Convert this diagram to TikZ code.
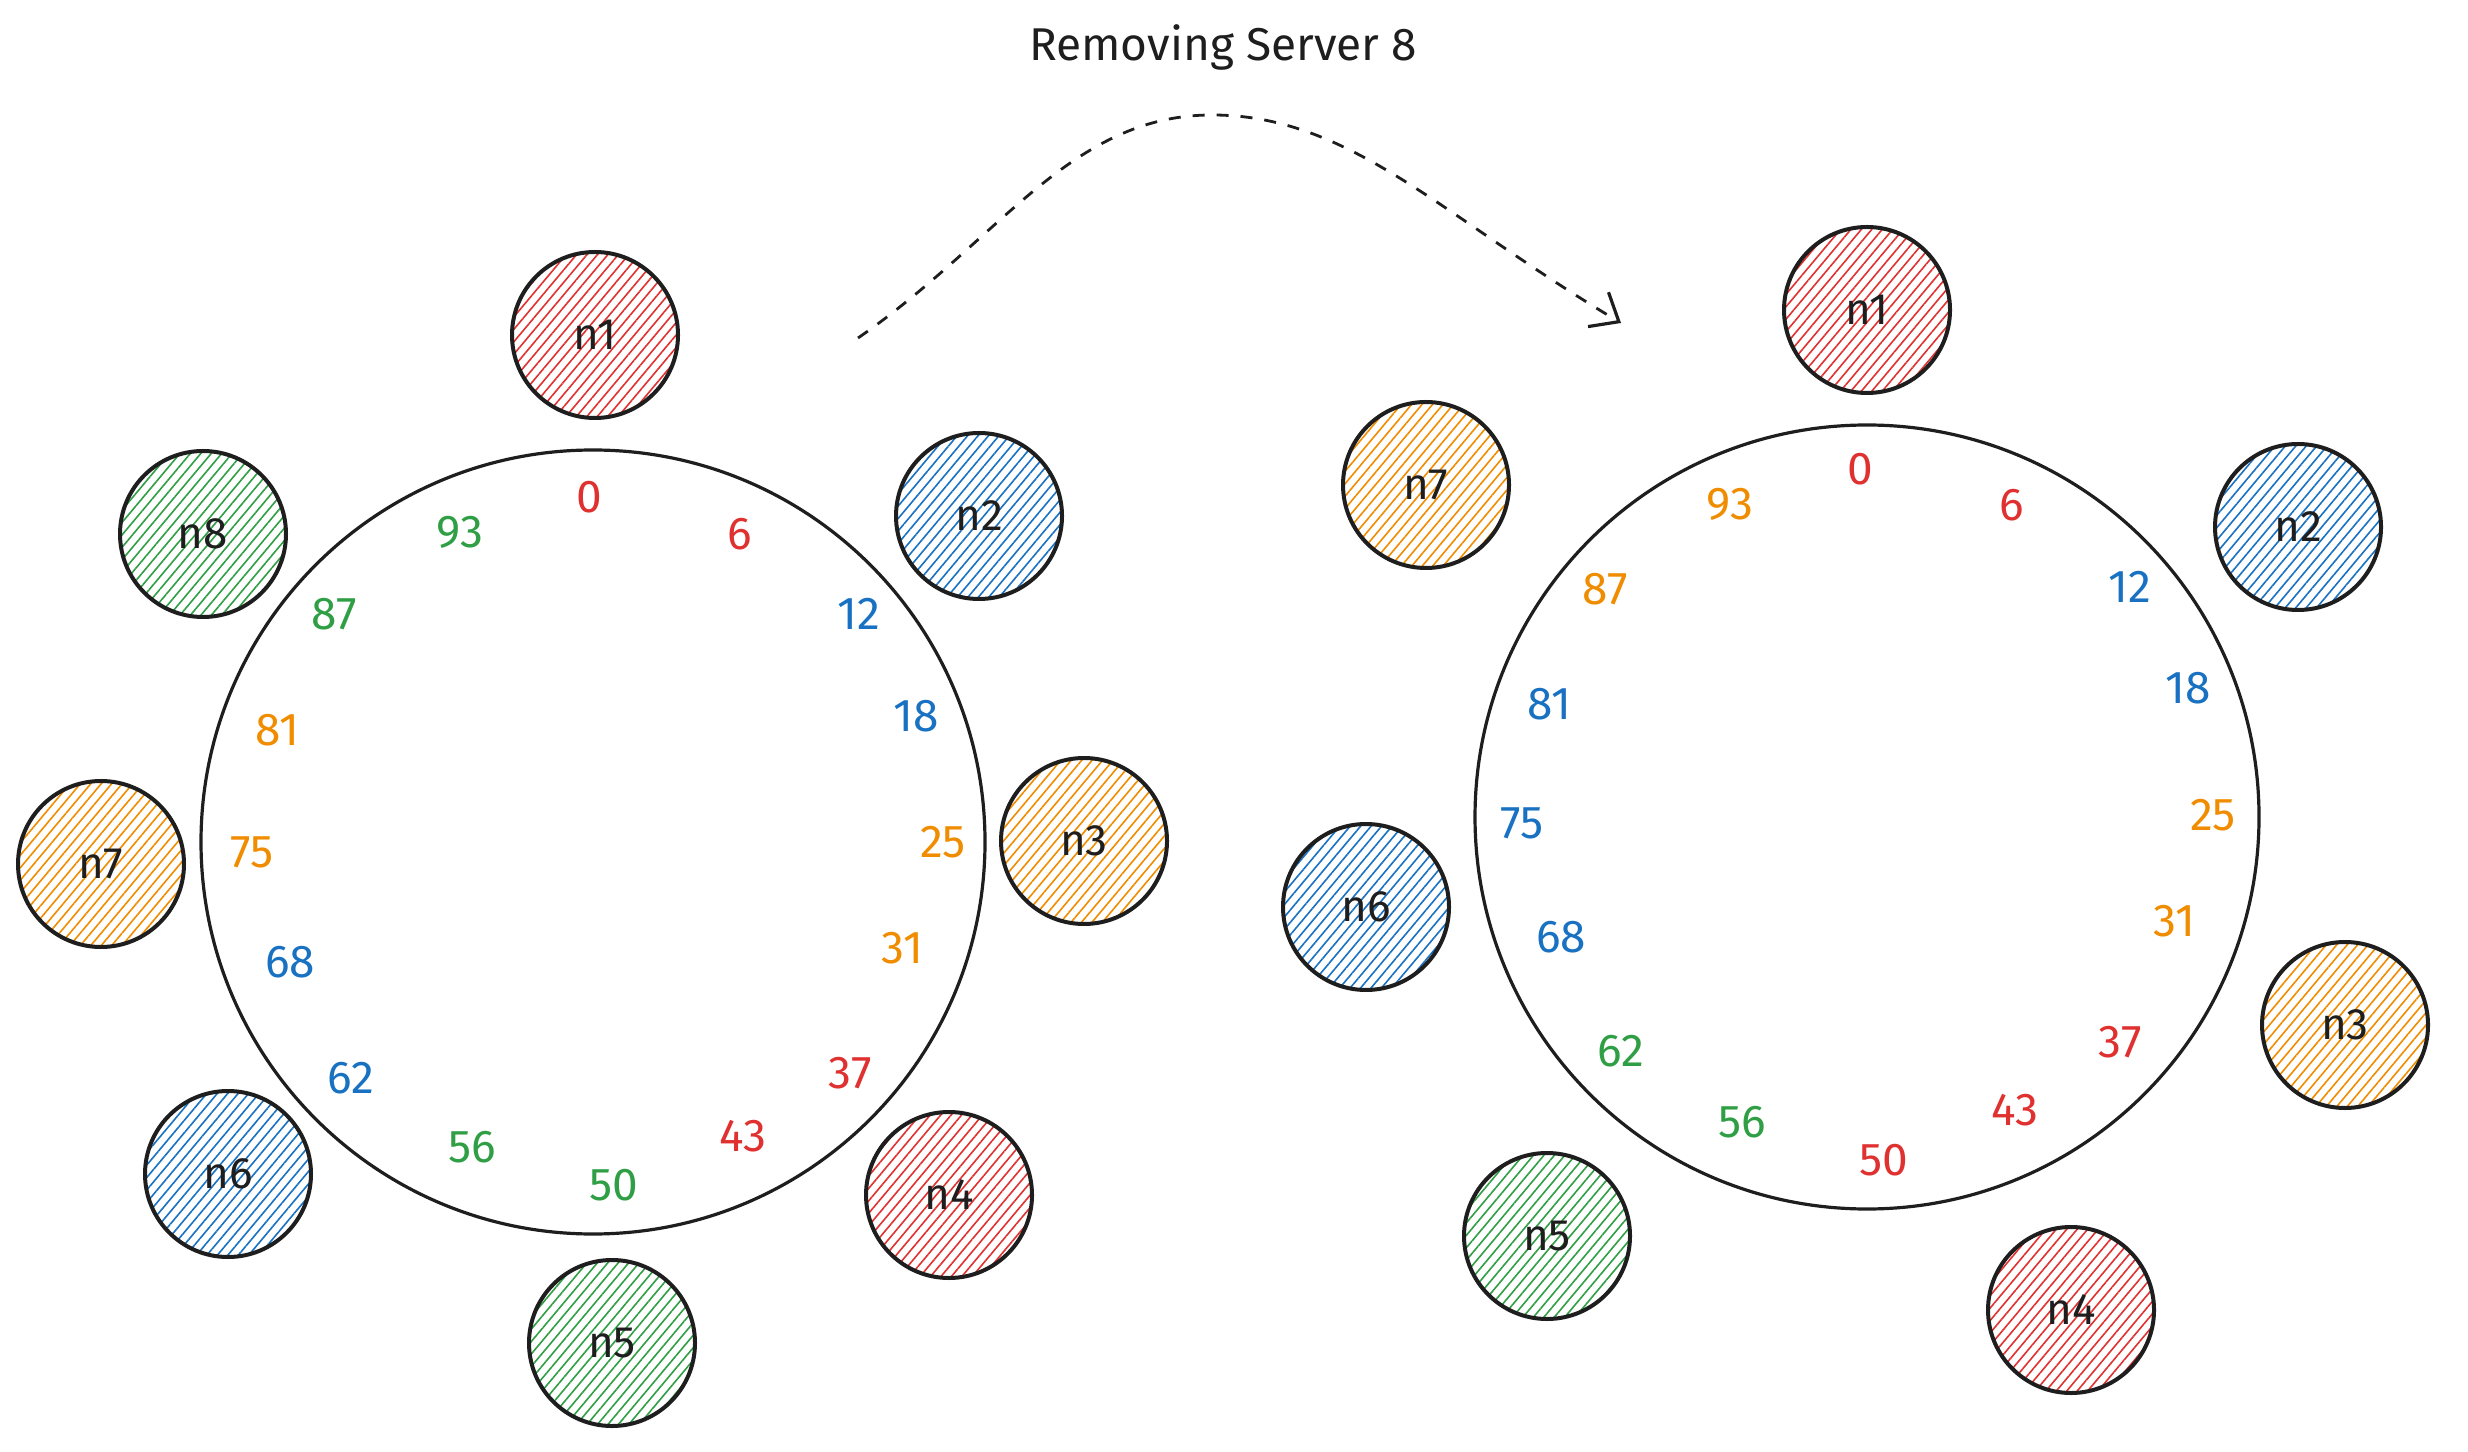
\documentclass[tikz,border=0pt]{standalone}
\usepackage{fontspec}
\setmainfont{Fira Sans}
\usetikzlibrary{patterns.meta,arrows.meta}
\definecolor{ink}{HTML}{1E1E1E}
\definecolor{cred}{HTML}{E03131}
\definecolor{cblue}{HTML}{1971C2}
\definecolor{cgreen}{HTML}{2F9E44}
\definecolor{corange}{HTML}{F08C00}
\tikzset{
  srv/.style={circle, draw=ink, line width=1pt, minimum size=41.5pt, inner sep=0pt,
    pattern={Lines[angle=50,distance=2pt,line width=0.4pt]}, pattern color=#1,
    font=\fontsize{11}{13}\selectfont, text=ink},
  ring/.style={circle, draw=ink, line width=0.8pt, minimum size=196pt, inner sep=0pt},
  lbl/.style={text=#1, font=\fontsize{11.5}{13}\selectfont, inner sep=0pt},
  ttl/.style={text=ink, font=\fontsize{11.5}{13}\selectfont, inner sep=0pt},
  flow/.style={draw=ink, line width=0.7pt, dash pattern=on 3pt off 3pt,
    -{Straight Barb[length=6pt,width=10pt,line width=0.8pt]}}
}
\begin{document}
\begin{tikzpicture}[x=0.25pt,y=-0.25pt]
\useasboundingbox (0,0) rectangle (2468,1452);
% title
\node[ttl] (title) at (1223,47) {Removing Server 8};
% left ring
\node[ring] (ringL) at (593,842) {};
\node[srv=cred] (Ln1) at (595,335) {n1};
\node[srv=cblue] (Ln2) at (979,516) {n2};
\node[srv=corange] (Ln3) at (1084,841) {n3};
\node[srv=cred] (Ln4) at (949,1195) {n4};
\node[srv=cgreen] (Ln5) at (612,1343) {n5};
\node[srv=cblue] (Ln6) at (228,1174) {n6};
\node[srv=corange] (Ln7) at (101,864) {n7};
\node[srv=cgreen] (Ln8) at (203,534) {n8};
\foreach \t/\c/\x/\y in {0/cred/589/497, 6/cred/740/534, 12/cblue/859/614, 18/cblue/916/716,
  25/corange/943/842, 31/corange/902/948, 37/cred/850/1073, 43/cred/743/1136,
  50/cgreen/614/1185, 56/cgreen/472/1147, 62/cblue/351/1078, 68/cblue/290/962,
  75/corange/252/852, 81/corange/277/730, 87/cgreen/334/614, 93/cgreen/460/532}
  \node[lbl=\c] (La\t) at (\x,\y) {\t};
% right ring
\node[ring] (ringR) at (1867,817) {};
\node[srv=cred] (Rn1) at (1867,310) {n1};
\node[srv=cblue] (Rn2) at (2298,527) {n2};
\node[srv=corange] (Rn3) at (2345,1025) {n3};
\node[srv=cred] (Rn4) at (2071,1310) {n4};
\node[srv=cgreen] (Rn5) at (1547,1236) {n5};
\node[srv=cblue] (Rn6) at (1366,907) {n6};
\node[srv=corange] (Rn7) at (1426,485) {n7};
\foreach \t/\c/\x/\y in {0/cred/1860/469, 6/cred/2012/505, 12/cblue/2130/587, 18/cblue/2188/688,
  25/corange/2213/815, 31/corange/2174/921, 37/cred/2120/1042, 43/cred/2015/1110,
  50/cred/1884/1160, 56/cgreen/1742/1122, 62/cgreen/1621/1051, 68/cblue/1561/937,
  75/cblue/1522/823, 81/cblue/1549/704, 87/corange/1605/589, 93/corange/1730/504}
  \node[lbl=\c] (Ra\t) at (\x,\y) {\t};
% arrow
\coordinate (aStart) at (858,338);
\coordinate (aPeak) at (1212,115);
\coordinate (aEnd) at (1621,323);
\draw[flow] (aStart) .. controls (1000,240) and (1070,115) .. (aPeak)
  .. controls (1350,115) and (1440,215) .. (aEnd);
\end{tikzpicture}
\end{document}
